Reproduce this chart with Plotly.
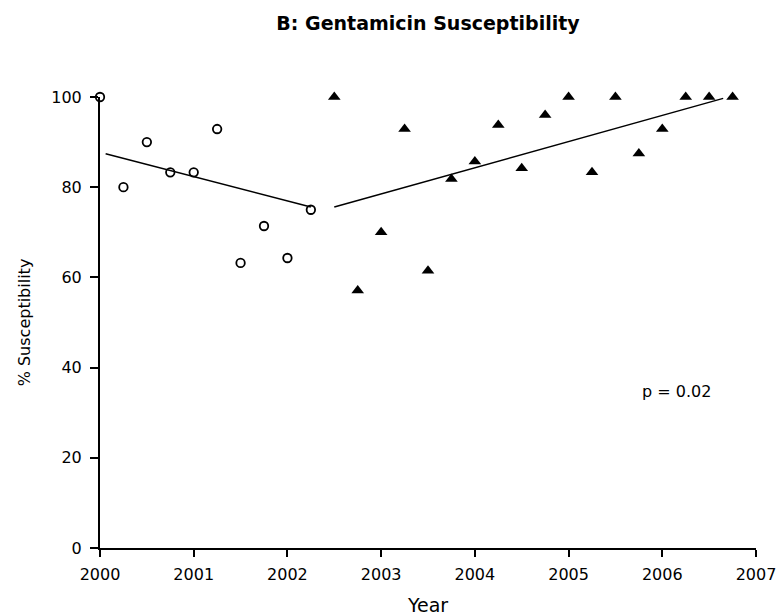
import plotly.graph_objects as go

# Period 1 (open circles)
years_1 = [2000.0, 2000.25, 2000.5, 2000.75, 2001.0, 2001.25, 2001.5, 2001.75, 2002.0, 2002.25]
susc_1 = [100, 80, 90, 83.3, 83.3, 92.9, 63.2, 71.4, 64.3, 75]

# Period 2 (filled triangles)
years_2 = [2002.5, 2002.75, 2003.0, 2003.25, 2003.5, 2003.75, 2004.0, 2004.25, 2004.5,
           2004.75, 2005.0, 2005.25, 2005.5, 2005.75, 2006.0, 2006.25, 2006.5, 2006.75]
susc_2 = [100, 57.1, 70, 92.9, 61.5, 81.8, 85.7, 93.8, 84.2,
          96, 100, 83.3, 100, 87.5, 92.9, 100, 100, 100]

# Trend lines
trend_1_x = [2000.06, 2002.25]
trend_1_y = [87.4, 75.6]
trend_2_x = [2002.5, 2006.65]
trend_2_y = [75.6, 99.7]

x_ticks = [2000, 2001, 2002, 2003, 2004, 2005, 2006, 2007]
y_ticks = [0, 20, 40, 60, 80, 100]

FONT = "DejaVu Sans, sans-serif"

fig = go.Figure()
fig.add_trace(go.Scatter(x=trend_1_x, y=trend_1_y, mode="lines",
                         line=dict(color="black", width=1.5), showlegend=False, cliponaxis=False))
fig.add_trace(go.Scatter(x=trend_2_x, y=trend_2_y, mode="lines",
                         line=dict(color="black", width=1.5), showlegend=False, cliponaxis=False))
fig.add_trace(go.Scatter(x=years_1, y=susc_1, mode="markers",
                         marker=dict(symbol="circle-open", size=8.5, color="black", line=dict(width=1.8)),
                         showlegend=False, cliponaxis=False))
fig.add_trace(go.Scatter(x=years_2, y=susc_2, mode="markers",
                         marker=dict(symbol="triangle-up", size=11, color="black"),
                         showlegend=False, cliponaxis=False))

fig.add_annotation(x=2006.15, y=34.6, xref="x", yref="y", text="p = 0.02", showarrow=False,
                   font=dict(family=FONT, size=16, color="black"))

fig.update_layout(
    width=777, height=616,
    margin=dict(l=100, r=21, t=97, b=68),
    paper_bgcolor="white", plot_bgcolor="white",
    title=dict(text="<b>B: Gentamicin Susceptibility</b>", x=0.5, xref="paper",
               y=1 - 23 / 616, yanchor="middle",
               font=dict(family=FONT, size=19, color="black")),
    font=dict(family=FONT, size=16, color="black"),
    xaxis=dict(range=[2000, 2007], tickvals=x_ticks, ticktext=[str(v) for v in x_ticks],
               showgrid=False, zeroline=False, showline=True, linecolor="black", linewidth=2,
               ticks="outside", ticklen=7, tickwidth=1.5, tickcolor="black",
               ticklabeloverflow="allow", ticklabelstandoff=4, automargin=False,
               title=dict(text="Year", standoff=23, font=dict(family=FONT, size=19))),
    yaxis=dict(range=[0, 100], tickvals=y_ticks, showgrid=False, zeroline=False,
               showline=True, linecolor="black", linewidth=2,
               ticks="outside", ticklen=8, tickwidth=1.5, tickcolor="black",
               ticklabelstandoff=5, automargin=False,
               title=dict(text="% Susceptibility", standoff=17, font=dict(family=FONT, size=16))),
)

fig.write_html("out.html")
